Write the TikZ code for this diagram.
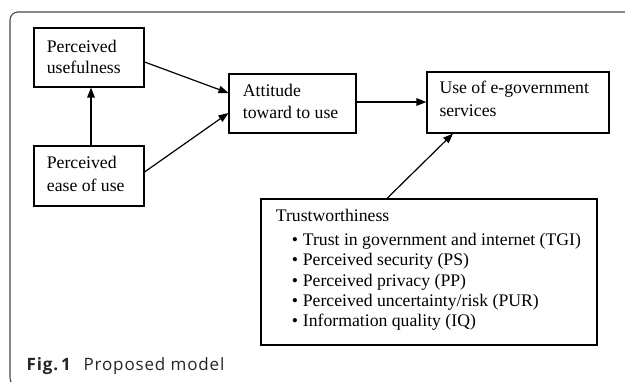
\documentclass[tikz,border=0pt]{standalone}
\usepackage{fontspec}
\setmainfont{Liberation Serif}
\newfontfamily\capfont[LetterSpace=5]{Open Sans}
\usetikzlibrary{arrows.meta}
\begin{document}
\begin{tikzpicture}[x=1pt,y=-1pt,
  box/.style={draw=black,line width=1.1pt,rectangle,inner sep=0pt},
  txt/.style={anchor=base west,inner sep=0pt,font=\fontsize{17.7}{21}\selectfont},
  bul/.style={anchor=base,inner sep=0pt,font=\fontsize{17.7}{21}\selectfont},
  conn/.style={line width=1.2pt,-{Triangle[length=10pt,width=7.5pt]}},
  frame/.style={draw=black!72,line width=1.1pt,rounded corners=8pt}]
\useasboundingbox (0,0) rectangle (625,382);
\clip (0,0) rectangle (625,382);
\fill[white] (0,0) rectangle (625,382);
% frame
\draw[frame] (40,386) -- (10,386) -- (10,12) -- (640,12);
% boxes
\node[box,minimum width=110pt,minimum height=59pt] (pu) at (89,57.5) {};
\node[box,minimum width=110pt,minimum height=60pt] (peu) at (89,176) {};
\node[box,minimum width=127pt,minimum height=59pt] (att) at (292.5,103.5) {};
\node[box,minimum width=182pt,minimum height=61pt] (use) at (518,102.5) {};
\node[box,minimum width=336pt,minimum height=146pt] (trust) at (429,272) {};
% texts
\node[txt] (pu1) at (46.7,52.2) {Perceived};
\node[txt] (pu2) at (46.7,73.8) {usefulness};
\node[txt] (peu1) at (46.7,168.3) {Perceived};
\node[txt] (peu2) at (46.7,191.5) {ease of use};
\node[txt] (att1) at (242.7,96.7) {Attitude};
\node[txt] (att2) at (242.7,119) {toward to use};
\node[txt] (use1) at (439.3,93.3) {Use of e-government};
\node[txt] (use2) at (439.3,116.7) {services};
\node[txt] (tr0) at (275.7,221.7) {Trustworthiness};
\node[bul] (b1) at (295,245.5) {\textbullet};
\node[bul] (b2) at (295,266) {\textbullet};
\node[bul] (b3) at (295,286.5) {\textbullet};
\node[bul] (b4) at (295,307) {\textbullet};
\node[bul] (b5) at (295,327) {\textbullet};
\node[txt] (tr1) at (302.7,245.5) {Trust in government and internet (TGI)};
\node[txt] (tr2) at (302.7,266) {Perceived security (PS)};
\node[txt] (tr3) at (302.7,286.5) {Perceived privacy (PP)};
\node[txt] (tr4) at (302.7,307) {Perceived uncertainty/risk (PUR)};
\node[txt] (tr5) at (302.7,327) {Information quality (IQ)};
% caption
\node[anchor=base west,inner sep=0pt,font=\capfont\fontsize{17}{20}\selectfont,text=black!85] (cap) at (26.5,371) {\textbf{Fig.\,1}\hspace{12pt}Proposed model};
% connectors
\draw[conn] ([yshift=-4.5pt]pu.east) -- ([yshift=10.5pt]att.west);
\draw[conn] ([yshift=4pt]peu.east) -- ([yshift=-9.5pt]att.west);
\draw[conn] ([xshift=2pt]peu.north) -- ([xshift=2pt]pu.south);
\draw[conn] ([yshift=1.5pt]att.east) -- ([yshift=0.5pt]use.west);
\draw[conn] ([xshift=-42pt]trust.north) -- ([xshift=-65pt]use.south);
\end{tikzpicture}
\end{document}
